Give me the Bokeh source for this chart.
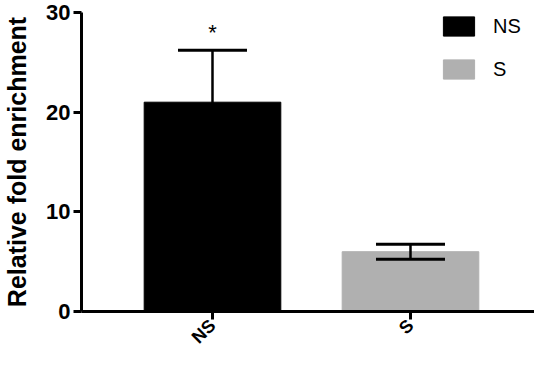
import math
from bokeh.plotting import figure
from bokeh.models import (ColumnDataSource, Range1d, FixedTicker, Whisker, TeeHead,
                          Legend, LegendItem, Label)
from bokeh.embed import file_html
from bokeh.resources import INLINE

groups = ["NS", "S"]
means = [21.0, 6.0]
errors = [5.2, 0.75]
colors = ["#000000", "#b0b0b0"]
positions = [0.5, 1.5]
y_ticks = [0, 10, 20, 30]
star_text = "*"
star_y = 28.0

upper = [m + e for m, e in zip(means, errors)]
lower = [m - e for m, e in zip(means, errors)]

src = ColumnDataSource(dict(x=positions, top=means, upper=upper, lower=lower,
                            color=colors, label=groups))

p = figure(width=534, height=357, output_backend="svg", toolbar_location=None,
           x_range=Range1d(-0.1616, 2.1263), y_range=Range1d(0, 30),
           min_border_left=81, min_border_top=12, min_border_bottom=40, min_border_right=0)

r = p.vbar(x="x", top="top", width=0.69, color="color", source=src)

w = Whisker(base="x", upper="upper", lower="lower", source=src, level="overlay",
            line_color="black", line_width=2.5,
            upper_head=TeeHead(size=69, line_width=3, line_color="black"),
            lower_head=TeeHead(size=69, line_width=3, line_color="black"))
p.add_layout(w)

p.add_layout(Label(x=positions[0], y=star_y, text=star_text, text_align="center",
                   text_baseline="middle", text_font="Liberation Sans",
                   text_font_size="22px", text_color="black"))

p.xgrid.visible = False
p.ygrid.visible = False
p.outline_line_color = None

p.yaxis.ticker = FixedTicker(ticks=y_ticks)
p.xaxis.ticker = FixedTicker(ticks=positions)
p.xaxis.major_label_overrides = {pos: g for pos, g in zip(positions, groups)}
p.xaxis.major_label_orientation = math.pi / 4

for ax in (p.xaxis, p.yaxis):
    ax.axis_line_width = 3
    ax.axis_line_color = "black"
    ax.major_tick_line_width = 3
    ax.major_tick_line_color = "black"
    ax.major_tick_out = 8
    ax.major_tick_in = 0
    ax.minor_tick_line_color = None
    ax.major_label_text_font = "Liberation Sans"
    ax.major_label_text_font_style = "bold"
    ax.major_label_text_color = "black"

p.yaxis.major_label_text_font_size = "22px"
p.xaxis.major_label_text_font_size = "18px"
p.yaxis.major_label_standoff = 3
p.xaxis.major_label_standoff = 3

p.yaxis.axis_label = "Relative fold enrichment"
p.yaxis.axis_label_text_font = "Liberation Sans"
p.yaxis.axis_label_text_font_style = "bold"
p.yaxis.axis_label_text_font_size = "25px"
p.yaxis.axis_label_text_color = "black"
p.yaxis.axis_label_standoff = 12

items = [LegendItem(label=g, renderers=[r], index=i) for i, g in enumerate(groups)]
legend = Legend(items=items, location=(358, 230), padding=0, margin=0,
                border_line_color=None, background_fill_alpha=0,
                glyph_width=39, glyph_height=24, label_height=24, spacing=19,
                label_standoff=15, label_text_font="Liberation Sans",
                label_text_font_size="20px", label_text_color="black")
p.add_layout(legend)

open("out.html", "w").write(file_html(p, INLINE))
